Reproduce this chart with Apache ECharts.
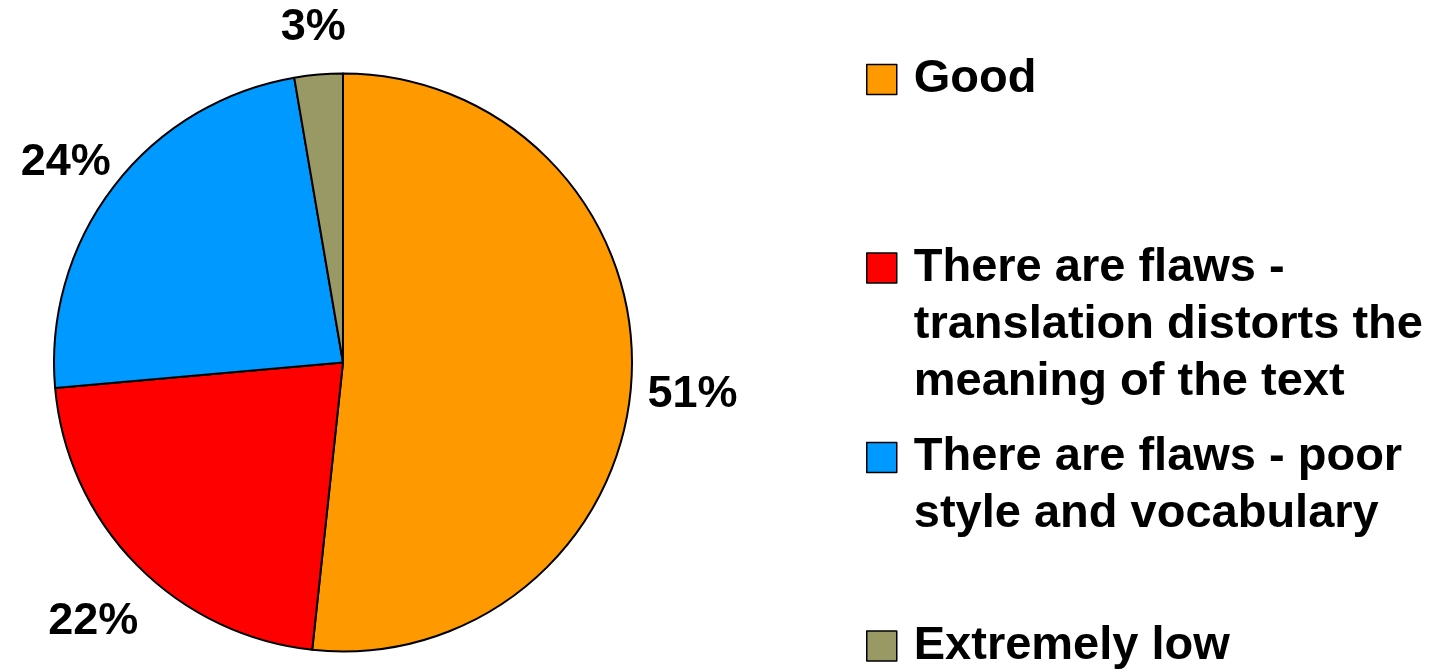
<!DOCTYPE html>
<html>
<head>
<meta charset="utf-8">
<style>
html,body{margin:0;padding:0;background:#fff;}
#chart{width:1439px;height:670px;}
</style>
<script src="https://cdn.jsdelivr.net/npm/echarts@6/dist/echarts.min.js"></script>
</head>
<body>
<div id="chart"></div>
<script>
const categories = [
  'Good',
  'There are flaws -\ntranslation distorts the\nmeaning of the text',
  'There are flaws - poor\nstyle and vocabulary',
  'Extremely low'
];
const values = [51.7, 21.9, 23.7, 2.7];
const percentLabels = ['51%', '22%', '24%', '3%'];
const colors = ['#FF9900', '#FF0000', '#0099FF', '#999966'];

const FONT = '"Liberation Sans", Arial, sans-serif';
const LEGEND_FS = 47, LABEL_FS = 45, LH = 57;

// legend placement (icon tops at ~64.5, 253, 442.5, 631)
const legendPos = [
  {top: 51},
  {bottom: 259.5},
  {bottom: 127},
  {top: 617.5}
];

const chart = echarts.init(document.getElementById('chart'), null, {renderer: 'canvas'});

const pieData = categories.map((name, i) => ({
  name: name,
  value: values[i],
  itemStyle: {color: colors[i]}
}));
const labelData = categories.map((name, i) => ({
  name: name,
  value: values[i]
}));

const legends = categories.map((name, i) => {
  const nLines = name.split('\n').length;
  return Object.assign({
    orient: 'vertical',
    left: 866,
    padding: 0,
    itemWidth: 30,
    itemHeight: 30,
    selectedMode: false,
    icon: 'rect',
    data: [name],
    // leading blank lines keep the first text line level with the square
    formatter: n => '\n'.repeat(nLines - 1) + n,
    itemStyle: {borderColor: '#000', borderWidth: 1.5},
    textStyle: {
      fontFamily: FONT,
      fontWeight: 'bold',
      fontSize: LEGEND_FS,
      lineHeight: LH,
      color: '#000',
      padding: [0, 0, 0, 12]
    }
  }, legendPos[i]);
});

chart.setOption({
  backgroundColor: '#fff',
  animation: false,
  legend: legends,
  series: [
    {
      type: 'pie',
      center: [343, 362.5],
      radius: [0, 289],
      startAngle: 90,
      clockwise: true,
      avoidLabelOverlap: false,
      silent: true,
      label: {show: false},
      labelLine: {show: false},
      itemStyle: {borderColor: '#000', borderWidth: 2},
      emphasis: {disabled: true},
      data: pieData
    },
    {
      type: 'pie',
      center: [343, 376],
      radius: [338, 356],
      startAngle: 90,
      clockwise: true,
      avoidLabelOverlap: false,
      silent: true,
      itemStyle: {color: 'rgba(0,0,0,0)', borderWidth: 0},
      emphasis: {disabled: true},
      labelLine: {show: false},
      label: {
        show: true,
        position: 'inside',
        color: '#000',
        fontFamily: FONT,
        fontWeight: 'bold',
        fontSize: LABEL_FS,
        formatter: p => percentLabels[p.dataIndex]
      },
      data: labelData
    }
  ]
});
</script>
</body>
</html>
